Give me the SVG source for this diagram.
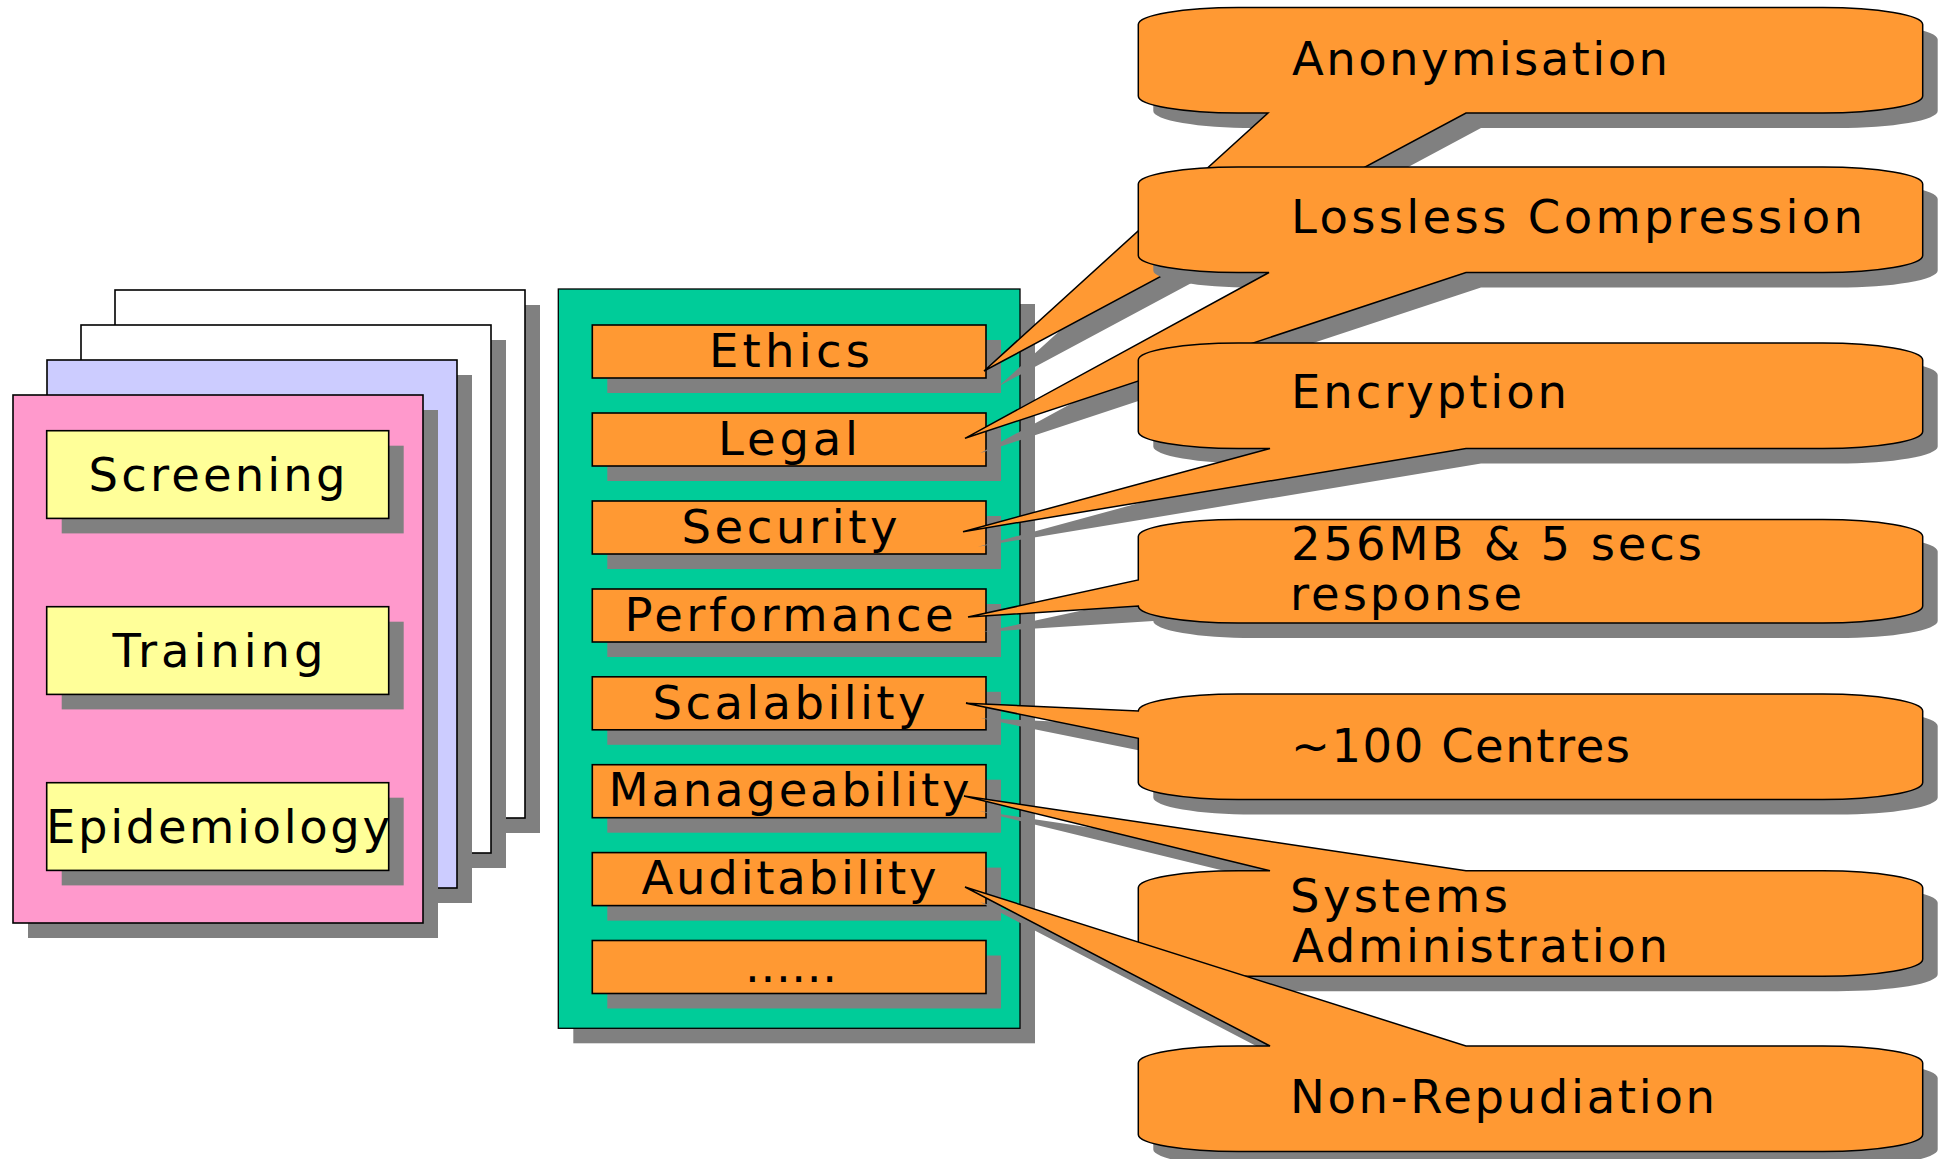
<svg xmlns="http://www.w3.org/2000/svg" xmlns:xlink="http://www.w3.org/1999/xlink" width="1939" height="1159" viewBox="0 0 1939 1159">
  <style>
    .sh { fill: #808080; stroke: none; }
    .card { stroke: #000; stroke-width: 1.6; }
    .white { fill: #ffffff; }
    .lav { fill: #ccccff; }
    .pink { fill: #ff99cc; }
    .yel { fill: #ffff99; stroke: #000; stroke-width: 1.6; }
    .panel { fill: #00cc99; stroke: #000; stroke-width: 1.3; }
    .box { fill: #ff9933; stroke: #000; stroke-width: 1.6; }
    .callout { fill: #ff9933; stroke: #000; stroke-width: 1.5; stroke-linejoin: miter; }
    text { font-family: "DejaVu Sans", Verdana, sans-serif; font-size: 46.5px; fill: #000; }
  </style>
  <defs>
    <!-- callout outlines: rounded body with a wedge pointing at a requirement box -->
    <path id="p1" d="M1238.3,7.5 H1822.7 A100 17 0 0 1 1922.7,24.5 V96 A100 17 0 0 1 1822.7,113 H1466 L984,371 L1268,113 H1238.3 A100 17 0 0 1 1138.3,96 V24.5 A100 17 0 0 1 1238.3,7.5 Z"/>
    <path id="p2" d="M1238.3,167 H1822.7 A100 17 0 0 1 1922.7,184 V255.5 A100 17 0 0 1 1822.7,272.5 H1466 L965,438.3 L1269,272.5 H1238.3 A100 17 0 0 1 1138.3,255.5 V184 A100 17 0 0 1 1238.3,167 Z"/>
    <path id="p3" d="M1238.3,343 H1822.7 A100 17 0 0 1 1922.7,360 V431.5 A100 17 0 0 1 1822.7,448.5 H1466 L963,531.7 L1270,448.5 H1238.3 A100 17 0 0 1 1138.3,431.5 V360 A100 17 0 0 1 1238.3,343 Z"/>
    <path id="p4" d="M1238.3,519.5 H1822.7 A100 17 0 0 1 1922.7,536.5 V606 A100 17 0 0 1 1822.7,623 H1238.3 A100 17 0 0 1 1138.3,606 L968,617 L1138.3,580 V536.5 A100 17 0 0 1 1238.3,519.5 Z"/>
    <path id="p5" d="M1238.3,694 H1822.7 A100 17 0 0 1 1922.7,711 V782.5 A100 17 0 0 1 1822.7,799.5 H1238.3 A100 17 0 0 1 1138.3,782.5 V738.3 L966,703.3 L1138.3,711 A100 17 0 0 1 1238.3,694 Z"/>
    <path id="p6" d="M1238.3,870.7 H1270 L964,796 L1466,870.7 H1822.7 A100 17 0 0 1 1922.7,887.7 V959.2 A100 17 0 0 1 1822.7,976.2 H1238.3 A100 17 0 0 1 1138.3,959.2 V887.7 A100 17 0 0 1 1238.3,870.7 Z"/>
    <path id="p7" d="M1238.3,1046 H1270 L965,887 L1466,1046 H1822.7 A100 17 0 0 1 1922.7,1063 V1134.5 A100 17 0 0 1 1822.7,1151.5 H1238.3 A100 17 0 0 1 1138.3,1134.5 V1063 A100 17 0 0 1 1238.3,1046 Z"/>
  </defs>

  <rect width="1939" height="1159" fill="#ffffff"/>

  <!-- stacked application cards -->
  <g id="card-back">
    <rect class="sh" x="130" y="305" width="410" height="528"/>
    <rect class="card white" x="115" y="290" width="410" height="528"/>
  </g>
  <g id="card-second">
    <rect class="sh" x="96" y="340" width="410" height="528"/>
    <rect class="card white" x="81" y="325" width="410" height="528"/>
  </g>
  <g id="card-third">
    <rect class="sh" x="62" y="375" width="410" height="528"/>
    <rect class="card lav" x="47" y="360" width="410" height="528"/>
  </g>
  <g id="card-front">
    <rect class="sh" x="28" y="410" width="410" height="528"/>
    <rect class="card pink" x="13" y="395" width="410" height="528"/>
  </g>
  <g id="screening">
    <rect class="sh" x="61.7" y="445.7" width="342" height="87.7"/>
    <rect class="yel" x="46.7" y="430.7" width="342" height="87.7"/>
    <text x="88.5" y="490.7" textLength="257" lengthAdjust="spacing">Screening</text>
  </g>
  <g id="training">
    <rect class="sh" x="61.7" y="621.7" width="342" height="87.7"/>
    <rect class="yel" x="46.7" y="606.7" width="342" height="87.7"/>
    <text x="112.5" y="667" textLength="211" lengthAdjust="spacing">Training</text>
  </g>
  <g id="epidemiology">
    <rect class="sh" x="61.7" y="797.7" width="342" height="87.7"/>
    <rect class="yel" x="46.7" y="782.7" width="342" height="87.7"/>
    <text x="46" y="843.3" textLength="344" lengthAdjust="spacing">Epidemiology</text>
  </g>

  <!-- requirements panel -->
  <g id="requirements">
    <rect class="sh" x="573.3" y="304" width="461.7" height="739.3"/>
    <rect class="panel" x="558.3" y="289" width="461.7" height="739.3"/>
  </g>
  <g id="ethics">
    <rect class="sh" x="607.3" y="340" width="393.7" height="53"/>
    <rect class="box" x="592.3" y="325" width="393.7" height="53"/>
    <text x="709" y="366.9" textLength="161" lengthAdjust="spacing">Ethics</text>
  </g>
  <g id="legal">
    <rect class="sh" x="607.3" y="428" width="393.7" height="53"/>
    <rect class="box" x="592.3" y="413" width="393.7" height="53"/>
    <text x="718" y="454.7" textLength="140" lengthAdjust="spacing">Legal</text>
  </g>
  <g id="security">
    <rect class="sh" x="607.3" y="516" width="393.7" height="53"/>
    <rect class="box" x="592.3" y="501" width="393.7" height="53"/>
    <text x="681.5" y="542.7" textLength="216" lengthAdjust="spacing">Security</text>
  </g>
  <g id="performance">
    <rect class="sh" x="607.3" y="604" width="393.7" height="53"/>
    <rect class="box" x="592.3" y="589" width="393.7" height="53"/>
    <text x="624.5" y="630.7" textLength="329" lengthAdjust="spacing">Performance</text>
  </g>
  <g id="scalability">
    <rect class="sh" x="607.3" y="691.8" width="393.7" height="53"/>
    <rect class="box" x="592.3" y="676.8" width="393.7" height="53"/>
    <text x="652.5" y="718.5" textLength="273" lengthAdjust="spacing">Scalability</text>
  </g>
  <g id="manageability">
    <rect class="sh" x="607.3" y="779.7" width="393.7" height="53"/>
    <rect class="box" x="592.3" y="764.7" width="393.7" height="53"/>
    <text x="608.5" y="806.4" textLength="361" lengthAdjust="spacing">Manageability</text>
  </g>
  <g id="auditability">
    <rect class="sh" x="607.3" y="867.6" width="393.7" height="53"/>
    <rect class="box" x="592.3" y="852.6" width="393.7" height="53"/>
    <text x="641.5" y="894.3" textLength="295" lengthAdjust="spacing">Auditability</text>
  </g>
  <g id="more">
    <rect class="sh" x="607.3" y="955.5" width="393.7" height="53"/>
    <rect class="box" x="592.3" y="940.5" width="393.7" height="53"/>
    <text x="745" y="982.2" textLength="92" lengthAdjust="spacing">......</text>
  </g>

  <!-- callouts: each shape carries its own wedge (the connector to its box) -->
  <g id="connectors">
    <g id="anonymisation">
      <use xlink:href="#p1" class="sh" x="15" y="15"/>
      <use xlink:href="#p1" class="callout"/>
      <text x="1292" y="75" textLength="376" lengthAdjust="spacing">Anonymisation</text>
    </g>
    <g id="lossless-compression">
      <use xlink:href="#p2" class="sh" x="15" y="15"/>
      <use xlink:href="#p2" class="callout"/>
      <text x="1291" y="233.3" textLength="572" lengthAdjust="spacing">Lossless Compression</text>
    </g>
    <g id="encryption">
      <use xlink:href="#p3" class="sh" x="15" y="15"/>
      <use xlink:href="#p3" class="callout"/>
      <text x="1291" y="408.3" textLength="276" lengthAdjust="spacing">Encryption</text>
    </g>
    <g id="response-time">
      <use xlink:href="#p4" class="sh" x="15" y="15"/>
      <use xlink:href="#p4" class="callout"/>
      <text x="1291" y="560" textLength="411" lengthAdjust="spacing">256MB &amp; 5 secs</text>
      <text x="1290" y="610" textLength="232" lengthAdjust="spacing">response</text>
    </g>
    <g id="centres">
      <use xlink:href="#p5" class="sh" x="15" y="15"/>
      <use xlink:href="#p5" class="callout"/>
      <text x="1291" y="761.7" textLength="339" lengthAdjust="spacing">~100 Centres</text>
    </g>
    <g id="systems-administration">
      <use xlink:href="#p6" class="sh" x="15" y="15"/>
      <use xlink:href="#p6" class="callout"/>
      <text x="1290" y="911.7" textLength="218" lengthAdjust="spacing">Systems</text>
      <text x="1292" y="961.7" textLength="376" lengthAdjust="spacing">Administration</text>
    </g>
    <g id="non-repudiation">
      <use xlink:href="#p7" class="sh" x="15" y="15"/>
      <use xlink:href="#p7" class="callout"/>
      <text x="1290" y="1113" textLength="425" lengthAdjust="spacing">Non-Repudiation</text>
    </g>
  </g>
</svg>
